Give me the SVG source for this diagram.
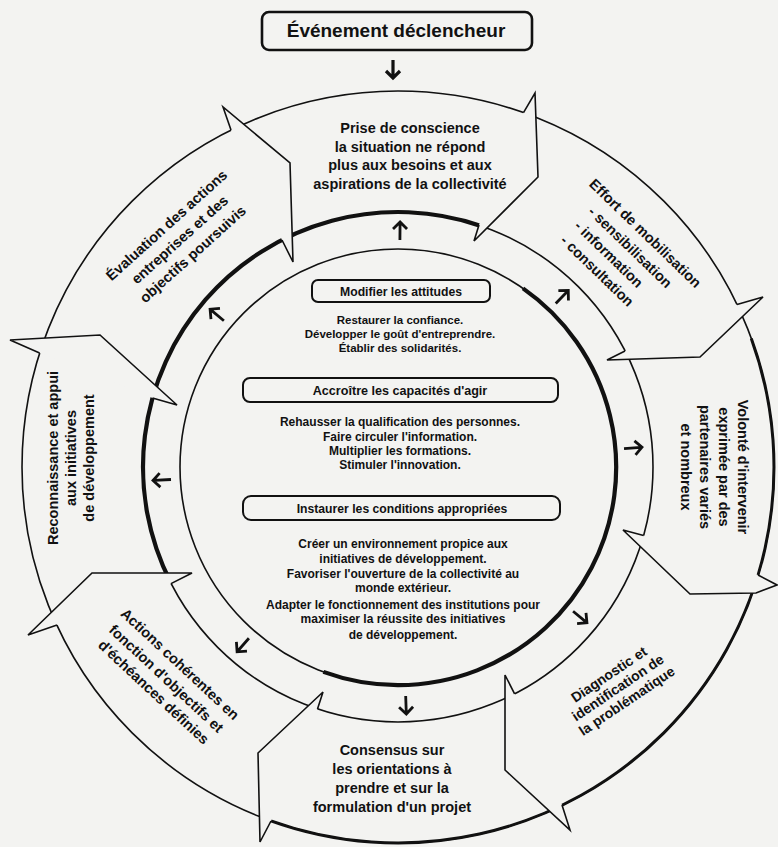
<svg xmlns="http://www.w3.org/2000/svg" width="778" height="847" viewBox="0 0 778 847">
<style>
.bg{fill:#f3f3f1}
.ln{fill:none;stroke:#111;stroke-width:1.6}
.thk{fill:none;stroke:#111;stroke-width:4.2}
.bd{fill:#f3f3f1;stroke:#111;stroke-width:1.6;stroke-linejoin:miter}
.ar{fill:none;stroke:#111;stroke-width:2.8;stroke-linecap:butt;stroke-linejoin:miter}
.box{fill:#f3f3f1;stroke:#111;stroke-width:2}
text{font-family:"Liberation Sans",Arial,sans-serif;font-weight:bold;fill:#111}
.seg{font-size:14.5px;text-anchor:middle}
.inn{font-size:12px;text-anchor:middle}
.lab{font-size:12.2px;text-anchor:middle}
</style>
<defs>
<path id="arr" d="M0,9 L0,-8 M-7,-2 L0,-9 L7,-2"/>
</defs>
<rect width="778" height="847" class="bg"/>

<g id="title">
<rect x="262" y="12" width="270" height="38" rx="7" fill="#f3f3f1" stroke="#111" stroke-width="2.6"/>
<text x="396" y="37" font-size="19" text-anchor="middle">Événement déclencheur</text>
</g>

<g id="rings">
<circle cx="398" cy="467" r="376" class="ln"/>
<circle cx="398" cy="467" r="255" class="ln"/>
<circle cx="398" cy="467" r="218" class="ln"/>
<path class="thk" d="M170.8,582.8 A255 255 0 0 1 481,225.9"/>
<path class="thk" d="M523,288.4 A218 218 0 0 1 323.4,671.9"/>
<path class="thk" style="stroke-width:3" d="M751.3,338.4 A376 376 0 0 1 269.4,820.3"/>
</g>

<g id="connectors">
<path class="bd" d="M231,130 L223,107 L290,163 L293,262 L282,240"/>
<path class="bd" d="M523.5,112.6 L535,93 L538,177 L474,241 L479,225"/>
<path class="bd" d="M737,304.5 L763,297 L700,357 L607,360 L625,351"/>
<path class="bd" d="M758,575 L777,585 L756,593 L690,594 L623,530 L643.6,535.6"/>
<path class="bd" d="M562,805 L570,830 L505,770 L505,675 L514.6,693.8"/>
<path class="bd" d="M271,821 L260,842 L258,753 L323,692 L317.5,709"/>
<path class="bd" d="M57,625 L28,635 L92,573 L192,573 L171,583.6"/>
<path class="bd" d="M39.6,353 L10,340 L100,335 L177,405 L152.5,398"/>
<use href="#arr" class="ar" style="stroke-width:3.2" transform="translate(393,69) rotate(180)"/>
<use href="#arr" class="ar" transform="translate(400,231) rotate(0.5)"/>
<use href="#arr" class="ar" transform="translate(562,297) rotate(44)"/>
<use href="#arr" class="ar" transform="translate(633,448) rotate(85.4)"/>
<use href="#arr" class="ar" transform="translate(580,617) rotate(129.5)"/>
<use href="#arr" class="ar" transform="translate(406,705) rotate(178)"/>
<use href="#arr" class="ar" transform="translate(243,645) rotate(221)"/>
<use href="#arr" class="ar" transform="translate(162,480) rotate(266.8)"/>
<use href="#arr" class="ar" transform="translate(217,315) rotate(310)"/>
</g>

<g id="prise">
<text class="seg" x="410" y="133">Prise de conscience</text>
<text class="seg" x="410" y="151.5">la situation ne répond</text>
<text class="seg" x="410" y="170">plus aux besoins et aux</text>
<text class="seg" x="410" y="188.5">aspirations de la collectivité</text>
</g>

<g id="effort" transform="translate(645,235) rotate(44)">
<text class="seg" x="-1" y="3.5">Effort de mobilisation</text>
<text class="seg" style="text-anchor:start" x="-57" y="24">- sensibilisation</text>
<text class="seg" style="text-anchor:start" x="-57" y="44">- information</text>
<text class="seg" style="text-anchor:start" x="-57" y="64">- consultation</text>
</g>

<g id="volonte" transform="translate(738,467) rotate(90)">
<text class="seg" x="0" y="0">Volonté d'intervenir</text>
<text class="seg" x="0" y="19">exprimée par des</text>
<text class="seg" x="0" y="38">partenaires variés</text>
<text class="seg" x="0" y="57">et nombreux</text>
</g>

<g id="diagnostic" transform="translate(618,688) rotate(-34)">
<text class="seg" style="font-size:14px" x="0" y="-11.5">Diagnostic et</text>
<text class="seg" style="font-size:14px" x="0" y="4.5">identification de</text>
<text class="seg" style="font-size:14px" x="0" y="20.5">la problématique</text>
</g>

<g id="consensus">
<text class="seg" x="392" y="755">Consensus sur</text>
<text class="seg" x="392" y="774">les orientations à</text>
<text class="seg" x="392" y="793">prendre et sur la</text>
<text class="seg" x="392" y="812">formulation d'un projet</text>
</g>

<g id="actions" transform="translate(166,679) rotate(43)">
<text class="seg" x="0" y="-15.5">Actions cohérentes en</text>
<text class="seg" x="0" y="4.5">fonction d'objectifs et</text>
<text class="seg" x="0" y="23">d'échéances définies</text>
</g>

<g id="reconnaissance" transform="translate(58,458) rotate(-90)">
<text class="seg" x="0" y="0">Reconnaissance et appui</text>
<text class="seg" x="0" y="18">aux initiatives</text>
<text class="seg" x="0" y="36">de développement</text>
</g>

<g id="evaluation" transform="translate(180,240) rotate(-42)">
<text class="seg" x="0" y="-15">Évaluation des actions</text>
<text class="seg" x="0" y="4.5">entreprises et des</text>
<text class="seg" x="0" y="24">objectifs poursuivis</text>
</g>

<g id="attitudes">
<rect class="box" x="312" y="280" width="178" height="22" rx="6"/>
<text class="lab" x="401" y="295.5">Modifier les attitudes</text>
<text class="inn" style="font-size:11.5px" x="400" y="324">Restaurer la confiance.</text>
<text class="inn" style="font-size:11.5px" x="400" y="337.5">Développer le goût d'entreprendre.</text>
<text class="inn" style="font-size:11.5px" x="400" y="351.5">Établir des solidarités.</text>
</g>

<g id="capacites">
<rect class="box" x="243" y="378" width="315" height="24" rx="7"/>
<text class="lab" style="font-size:12.6px" x="400" y="394.5">Accroître les capacités d'agir</text>
<text class="inn" x="400" y="426">Rehausser la qualification des personnes.</text>
<text class="inn" x="400" y="441">Faire circuler l'information.</text>
<text class="inn" x="400" y="455">Multiplier les formations.</text>
<text class="inn" x="400" y="469">Stimuler l'innovation.</text>
</g>

<g id="conditions">
<rect class="box" x="243" y="496" width="317" height="24" rx="8"/>
<text class="lab" x="402" y="512.5">Instaurer les conditions appropriées</text>
<text class="inn" x="403" y="548">Créer un environnement propice aux</text>
<text class="inn" x="403" y="562.5">initiatives de développement.</text>
<text class="inn" x="403" y="577.5">Favoriser l'ouverture de la collectivité au</text>
<text class="inn" x="403" y="592">monde extérieur.</text>
<text class="inn" x="403" y="609">Adapter le fonctionnement des institutions pour</text>
<text class="inn" x="403" y="623">maximiser la réussite des initiatives</text>
<text class="inn" x="403" y="639">de développement.</text>
</g>
</svg>
